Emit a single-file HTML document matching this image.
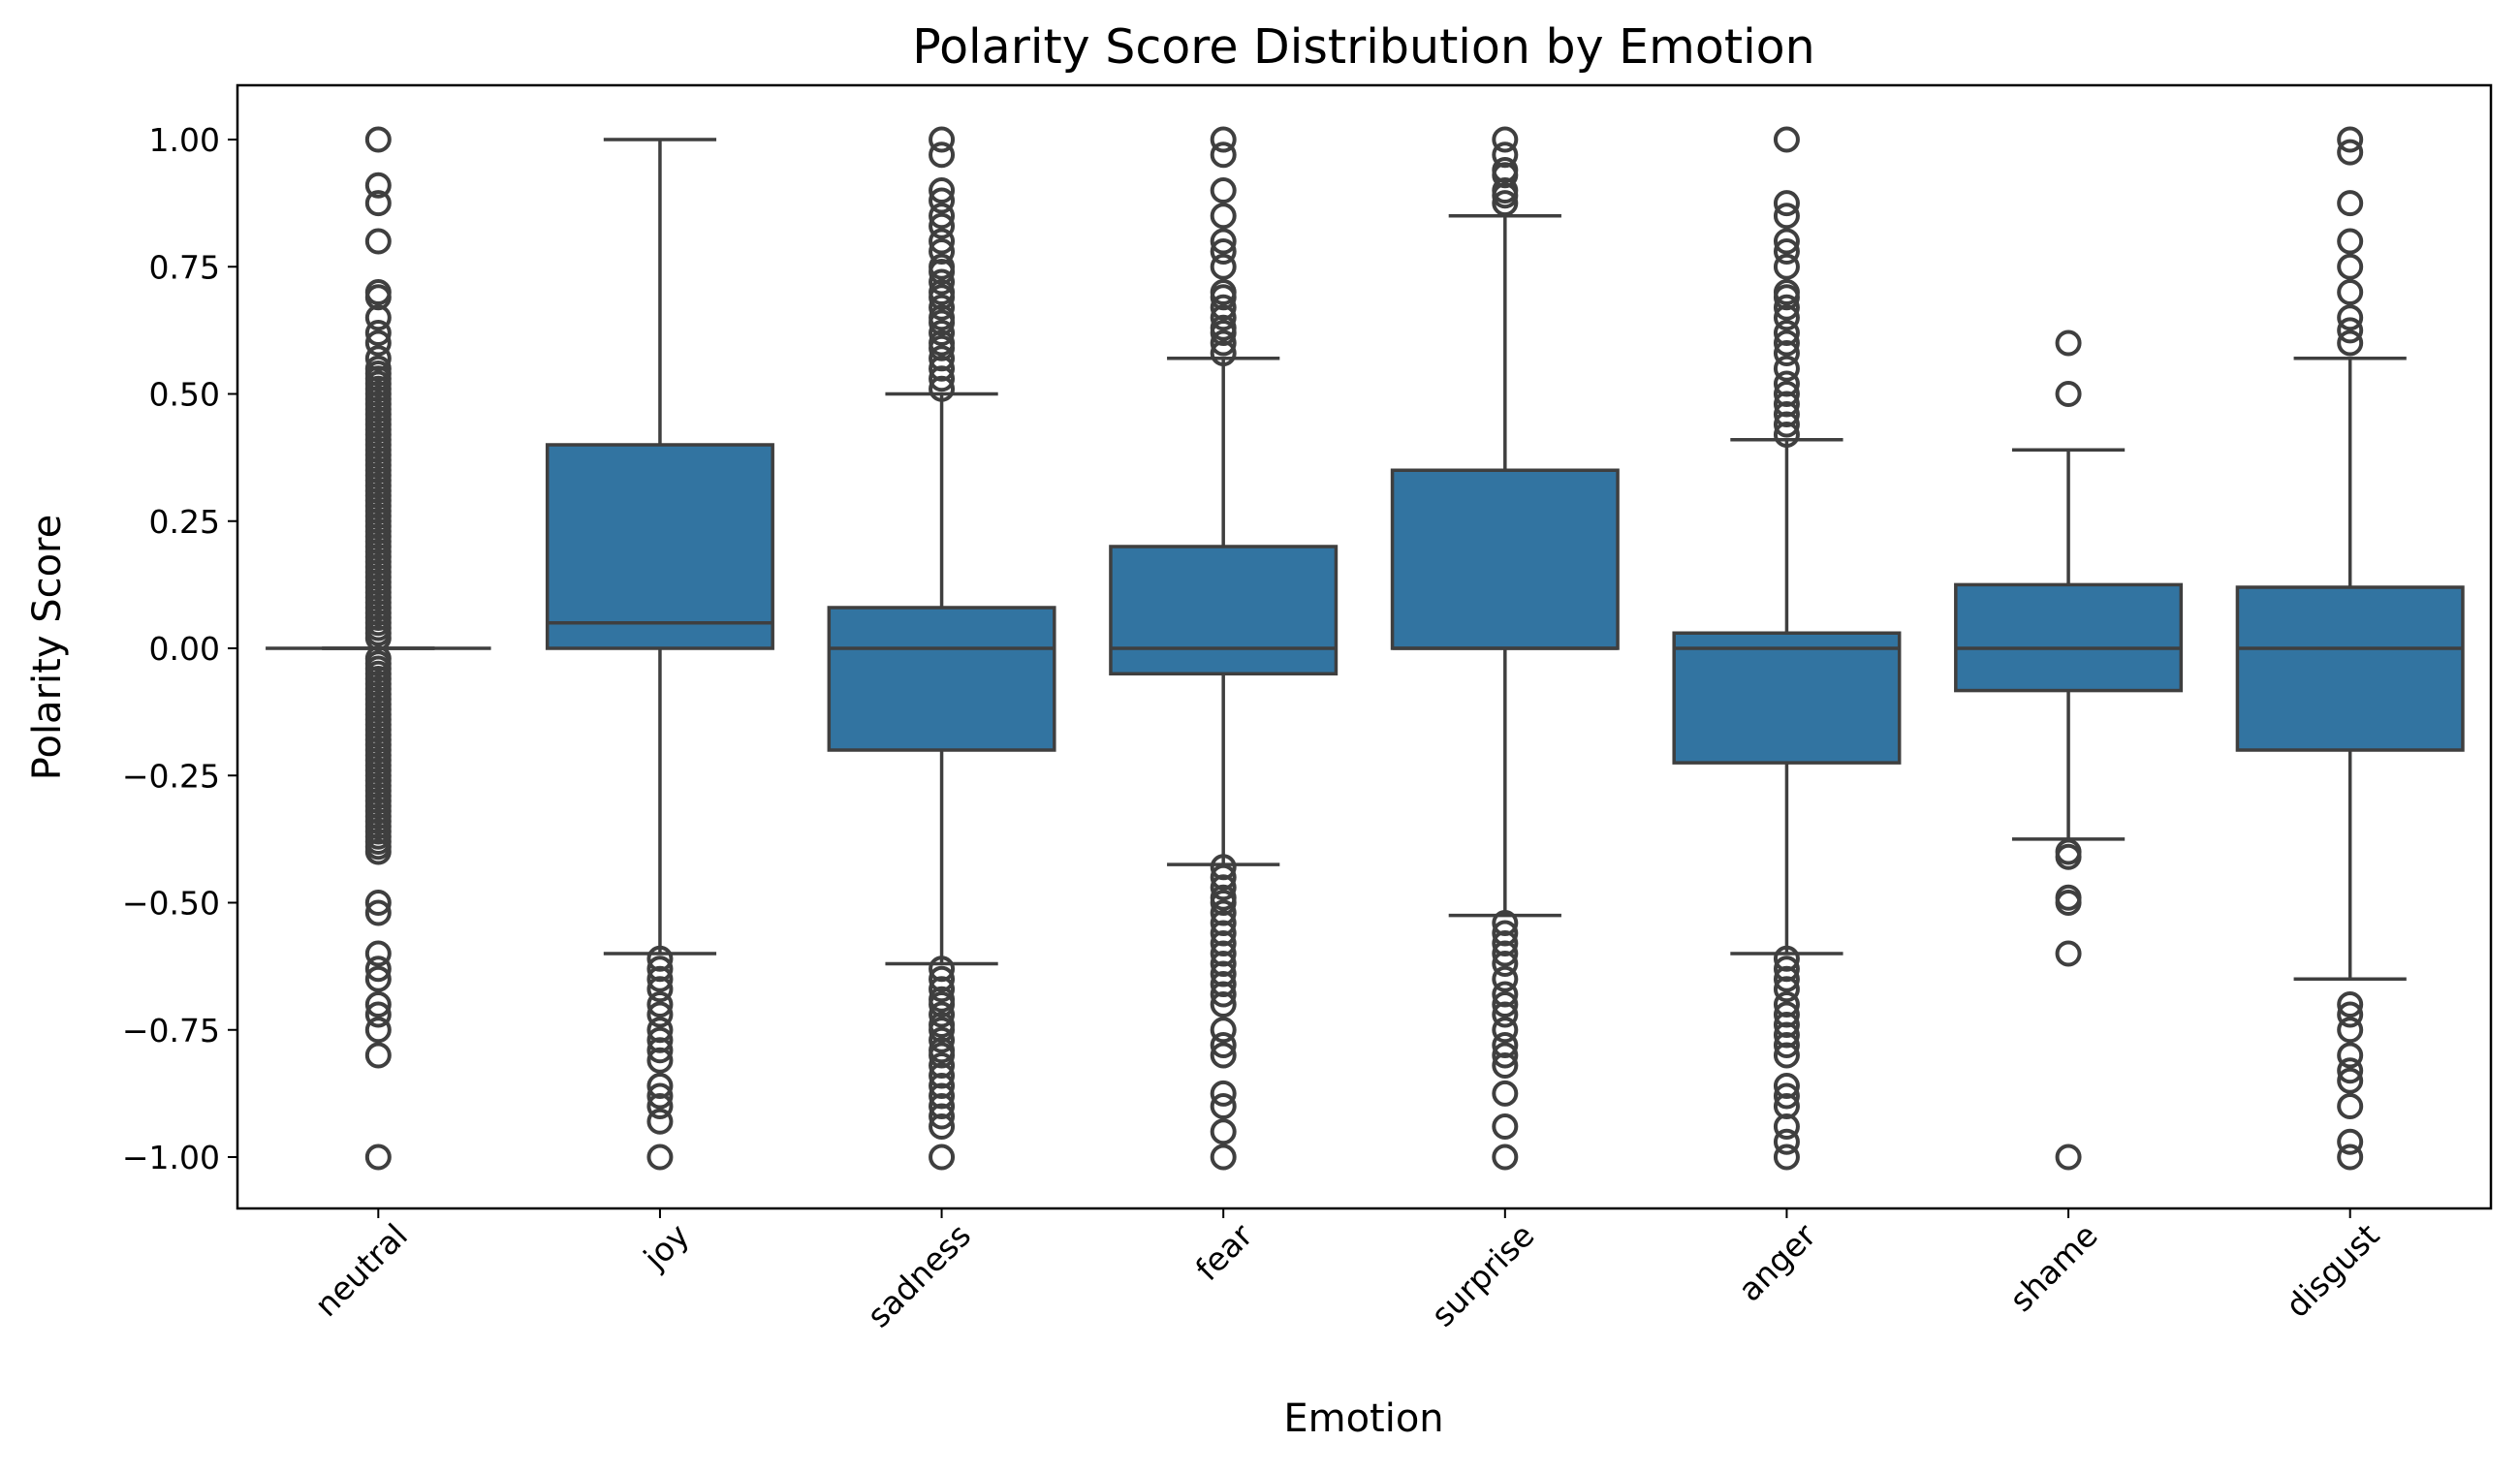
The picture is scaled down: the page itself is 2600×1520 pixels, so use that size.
<!DOCTYPE html>
<html><head><meta charset="utf-8"><style>
body{margin:0;background:#fff}
svg text{font-family:"DejaVu Sans","Liberation Sans",sans-serif;fill:#000}
</style></head><body>
<svg id="chart" width="2600" height="1515" viewBox="0 0 2600 1515" xmlns="http://www.w3.org/2000/svg">
<rect width="2600" height="1515" fill="#fff"/>
<text x="1407" y="65" font-size="49" text-anchor="middle">Polarity Score Distribution by Emotion</text>
<text x="1407" y="1477" font-size="40" text-anchor="middle">Emotion</text>
<text transform="translate(62,668) rotate(-90)" font-size="40" text-anchor="middle">Polarity Score</text>
<g id="plot"></g>
<rect x="245" y="88" width="2325" height="1159" fill="none" stroke="#000" stroke-width="2.5"/>
</svg>
<script>
const categories=["neutral","joy","sadness","fear","surprise","anger","shame","disgust"];
const q1=[0,0,-0.2,-0.05,0,-0.225,-0.083,-0.2];
const medians=[0,0.05,0,0,0,0,0,0];
const q3=[0,0.4,0.08,0.2,0.35,0.03,0.125,0.12];
const whiskerLow=[0,-0.6,-0.62,-0.425,-0.525,-0.6,-0.375,-0.65];
const whiskerHigh=[0,1.0,0.5,0.57,0.85,0.41,0.39,0.57];
const outliers=[
[1,0.91,0.875,0.8,0.7,0.69,0.65,0.62,0.6,0.57,0.55,0.54,0.53,0.52,0.51,0.5,0.49,0.48,0.47,0.46,0.45,0.44,0.43,0.42,0.41,0.4,0.39,0.38,0.37,0.36,0.35,0.34,0.33,0.32,0.31,0.3,0.29,0.28,0.27,0.26,0.25,0.24,0.23,0.22,0.21,0.2,0.19,0.18,0.17,0.16,0.15,0.14,0.13,0.12,0.11,0.1,0.09,0.08,0.07,0.06,0.05,0.04,0.03,0.02,-0.02,-0.03,-0.04,-0.05,-0.06,-0.07,-0.08,-0.09,-0.1,-0.11,-0.12,-0.13,-0.14,-0.15,-0.16,-0.17,-0.18,-0.19,-0.2,-0.21,-0.22,-0.23,-0.24,-0.25,-0.26,-0.27,-0.28,-0.29,-0.3,-0.31,-0.32,-0.33,-0.34,-0.35,-0.36,-0.37,-0.38,-0.39,-0.4,-0.5,-0.52,-0.6,-0.63,-0.65,-0.7,-0.72,-0.75,-0.8,-1],
[-0.61,-0.63,-0.65,-0.67,-0.7,-0.72,-0.75,-0.77,-0.79,-0.81,-0.86,-0.88,-0.9,-0.93,-1],
[0.51,0.53,0.55,0.57,0.59,0.6,0.62,0.64,0.65,0.67,0.69,0.7,0.72,0.74,0.75,0.78,0.8,0.83,0.85,0.88,0.9,0.97,1,-0.63,-0.65,-0.67,-0.69,-0.7,-0.72,-0.74,-0.75,-0.77,-0.79,-0.8,-0.82,-0.84,-0.86,-0.88,-0.9,-0.92,-0.94,-1],
[0.58,0.6,0.62,0.63,0.65,0.67,0.69,0.7,0.75,0.78,0.8,0.85,0.9,0.97,1,-0.43,-0.45,-0.47,-0.49,-0.5,-0.52,-0.54,-0.56,-0.58,-0.6,-0.62,-0.64,-0.66,-0.68,-0.7,-0.75,-0.78,-0.8,-0.875,-0.9,-0.95,-1],
[0.875,0.89,0.9,0.93,0.94,0.97,1,-0.54,-0.56,-0.58,-0.6,-0.62,-0.65,-0.68,-0.7,-0.72,-0.75,-0.78,-0.8,-0.82,-0.875,-0.94,-1],
[0.42,0.44,0.46,0.48,0.5,0.52,0.55,0.58,0.6,0.62,0.65,0.67,0.69,0.7,0.75,0.78,0.8,0.85,0.875,1,-0.61,-0.63,-0.65,-0.67,-0.7,-0.72,-0.74,-0.76,-0.78,-0.8,-0.86,-0.88,-0.9,-0.94,-0.97,-1],
[0.6,0.5,-0.4,-0.41,-0.49,-0.5,-0.6,-1],
[0.6,0.625,0.65,0.7,0.75,0.8,0.875,0.975,1,-0.7,-0.72,-0.75,-0.8,-0.83,-0.85,-0.9,-0.97,-1]
];
const yTicks=[1,0.75,0.5,0.25,0,-0.25,-0.5,-0.75,-1];
const yTickLabels=["1.00","0.75","0.50","0.25","0.00","\u22120.25","\u22120.50","\u22120.75","\u22121.00"];

const NS="http://www.w3.org/2000/svg";
const L=245,R=2570,T=88,B=1247;
const step=(R-L)/categories.length;
const xS=i=>L+step*(i+0.5);
const yS=v=>669-v*525;
const plot=document.getElementById('plot');
function mk(tag,attrs){const e=document.createElementNS(NS,tag);for(const k in attrs)e.setAttribute(k,attrs[k]);return e;}
const lc="#3f3f3f";
yTicks.forEach((v,i)=>{
 const g=mk('g',{});
 
 
 g.appendChild(mk('line',{x1:L-10,x2:L,y1:yS(v),y2:yS(v),stroke:'#000','stroke-width':2}));
 const t=mk('text',{x:L-18,y:yS(v)+12,'font-size':33,'text-anchor':'end'});t.textContent=yTickLabels[i];g.appendChild(t);
 plot.appendChild(g);
});
categories.forEach((c,i)=>{
 const x=xS(i),w=step*0.8;
 const g=mk('g',{});
 
 
 g.appendChild(mk('line',{x1:x,x2:x,y1:yS(whiskerHigh[i]),y2:yS(q3[i]),stroke:lc,'stroke-width':3.5}));
 g.appendChild(mk('line',{x1:x,x2:x,y1:yS(q1[i]),y2:yS(whiskerLow[i]),stroke:lc,'stroke-width':3.5}));
 g.appendChild(mk('line',{x1:x-w/4,x2:x+w/4,y1:yS(whiskerHigh[i]),y2:yS(whiskerHigh[i]),stroke:lc,'stroke-width':3.5}));
 g.appendChild(mk('line',{x1:x-w/4,x2:x+w/4,y1:yS(whiskerLow[i]),y2:yS(whiskerLow[i]),stroke:lc,'stroke-width':3.5}));
 const h=Math.max(yS(q1[i])-yS(q3[i]),0);
 g.appendChild(mk('rect',{x:x-w/2,y:yS(q3[i]),width:w,height:h,fill:'#3274a1',stroke:lc,'stroke-width':3.5}));
 g.appendChild(mk('line',{x1:x-w/2,x2:x+w/2,y1:yS(medians[i]),y2:yS(medians[i]),stroke:lc,'stroke-width':3.5}));
 outliers[i].forEach(v=>{
  const p=mk('circle',{cx:x,cy:yS(v),r:11.5,fill:'none',stroke:lc,'stroke-width':4});
  
  
  g.appendChild(p);
 });
 plot.appendChild(g);
 const tg=mk('g',{});
 
 
 tg.appendChild(mk('line',{x1:x,x2:x,y1:B,y2:B+10,stroke:'#000','stroke-width':2}));
 const t=mk('text',{'font-size':33,'text-anchor':'end',transform:`translate(${x+32},${B+30}) rotate(-45)`});
 t.textContent=c;tg.appendChild(t);
 plot.appendChild(tg);
});
</script>
</body></html>
